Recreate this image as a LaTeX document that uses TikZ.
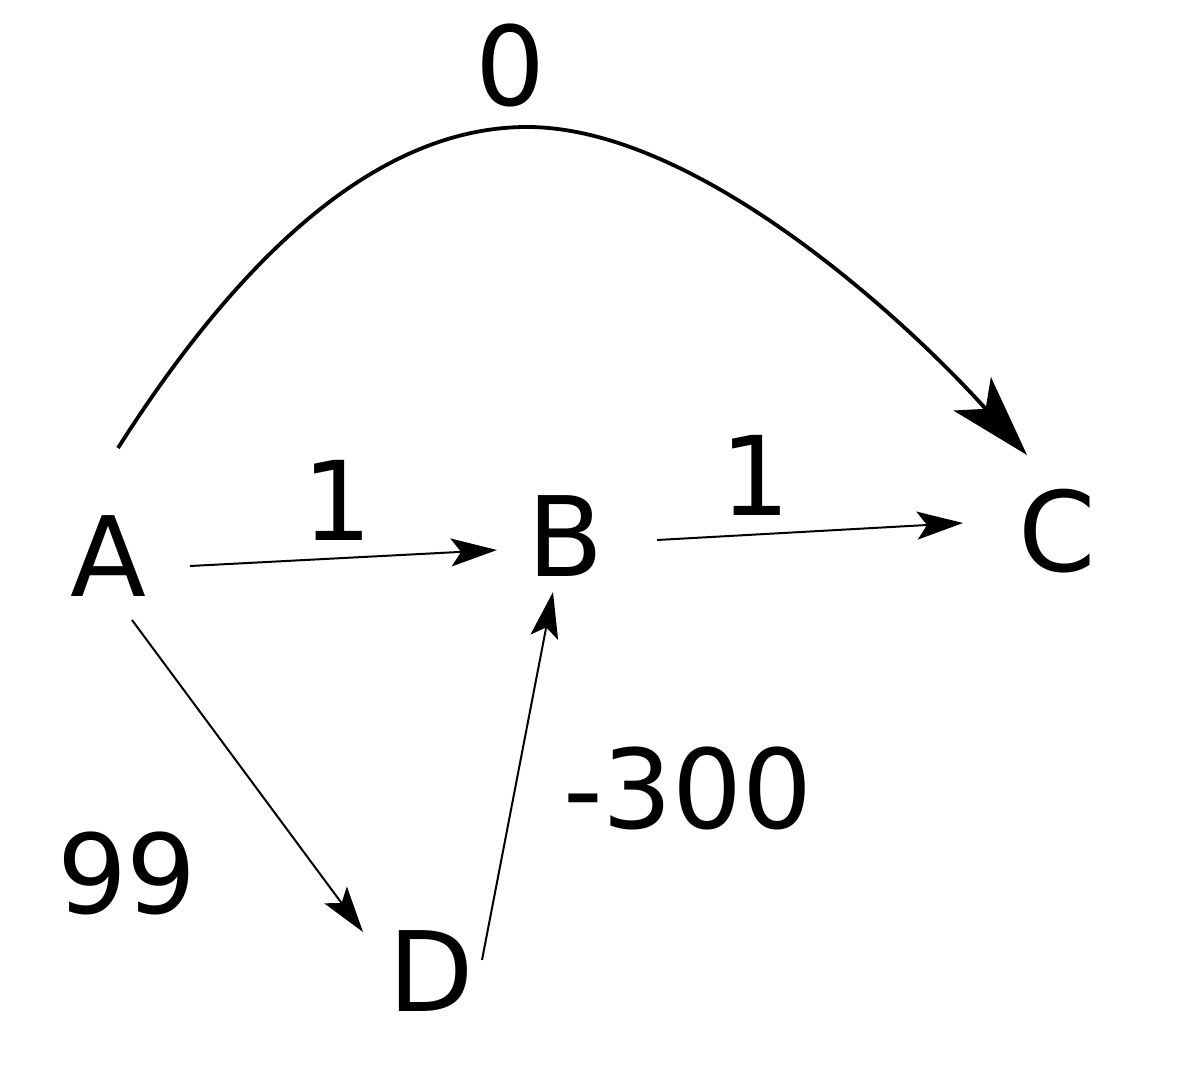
\documentclass[tikz,border=0pt]{standalone}
\usepackage{fontspec}
\setmainfont{DejaVu Sans}
\usetikzlibrary{
  arrows.meta,
  positioning,
  calc
}

\begin{document}
\begin{tikzpicture}[
      x=1pt, y=-1pt,
      vertice/.style={inner sep=0pt, font=\fontsize{111}{130}\selectfont},
      peso/.style={inner sep=0pt, font=\fontsize{110}{130}\selectfont},
      seta/.style={-{Stealth[length=46pt, width=28pt, inset=10pt]}, line width=2pt},
      setagrossa/.style={-{Stealth[length=82pt, width=50pt, inset=20pt]}, line width=3.8pt}
  ]
      \useasboundingbox (0,0) rectangle (1180,1086);

      % Vertices
      \node[vertice] (A) at (108,556) {A};
      \node[vertice] (B) at (566,536) {B};
      \node[vertice] (C) at (1057,531) {C};
      \node[vertice] (D) at (431,971) {D};

      % Pesos
      \node[peso] (p0) at (510,65) {0};
      \node[peso] (pAB) at (337,500) {1};
      \node[peso] (pBC) at (755,475) {1};
      \node[peso] (pAD) at (127,873) {99};
      \node[peso] (pDB) at (688,788) {-300};

      % Arestas
      \draw[seta] ([shift={(82,10)}]A.center) -- ([shift={(-69,14)}]B.center);
      \draw[seta] ([shift={(91,4)}]B.center) -- ([shift={(-94,-8)}]C.center);
      \draw[seta] ([shift={(24,64)}]A.center) -- ([shift={(-68,-39)}]D.center);
      \draw[seta] ([shift={(51,-11)}]D.center) -- ([shift={(-13,56)}]B.center);
      \draw[setagrossa] ([shift={(10,-108)}]A.center)
          .. controls (254,234) and (391,127) .. (527,127)
          .. controls (697,127) and (907,321) .. ([shift={(-30,-76)}]C.center);
  \end{tikzpicture}
\end{document}
